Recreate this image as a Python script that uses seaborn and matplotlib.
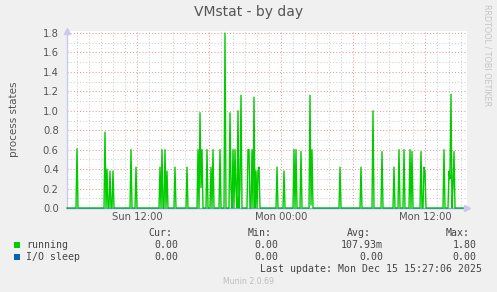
import numpy as np
import pandas as pd
import matplotlib
matplotlib.use("Agg")
import matplotlib.pyplot as plt
import matplotlib.dates as mdates
from matplotlib.ticker import MultipleLocator, FuncFormatter
from matplotlib.patches import Rectangle
import seaborn as sns

# ---------------- data ----------------
series_start = "2025-12-14 06:10"
series_end = "2025-12-15 15:25"
view_end = "2025-12-15 15:30"

# non-zero 5-minute samples of "running" (all other samples are 0)
running_times = [
    "12-14 07:00", "12-14 09:20", "12-14 09:30", "12-14 09:45", "12-14 10:00",
    "12-14 11:30", "12-14 11:55", "12-14 13:55", "12-14 14:05", "12-14 14:20",
    "12-14 14:30", "12-14 15:10", "12-14 16:10", "12-14 17:05", "12-14 17:15",
    "12-14 17:20", "12-14 17:25", "12-14 17:50", "12-14 18:10", "12-14 18:20",
    "12-14 18:55", "12-14 19:20", "12-14 19:45", "12-14 19:50", "12-14 20:00",
    "12-14 20:10", "12-14 20:15", "12-14 20:25", "12-14 20:35", "12-14 20:40",
    "12-14 21:15", "12-14 21:20", "12-14 21:35", "12-14 21:45", "12-14 21:55",
    "12-14 22:05", "12-14 22:10", "12-14 23:40", "12-15 00:15", "12-15 01:05",
    "12-15 01:15", "12-15 01:40", "12-15 02:25", "12-15 02:30", "12-15 02:35",
    "12-15 04:55", "12-15 06:40", "12-15 07:40", "12-15 08:25", "12-15 09:25",
    "12-15 09:50", "12-15 10:15", "12-15 10:45", "12-15 10:55", "12-15 11:40",
    "12-15 11:55", "12-15 12:00", "12-15 13:35", "12-15 14:00", "12-15 14:05",
    "12-15 14:10", "12-15 14:20", "12-15 14:25",
]
running_values = [
    0.61, 0.78, 0.40, 0.38, 0.38,
    0.60, 0.42, 0.42, 0.60, 0.60,
    0.38, 0.42, 0.42, 0.60, 0.98,
    0.21, 0.60, 0.60, 0.42, 0.60,
    0.60, 1.80, 0.98, 0.20, 0.60,
    0.60, 0.18, 1.00, 0.21, 1.16,
    0.60, 0.60, 0.60, 1.14, 0.38,
    0.38, 0.42, 0.42, 0.38, 0.60,
    0.60, 0.58, 1.16, 0.03, 0.60,
    0.42, 0.42, 1.00, 0.58, 0.42,
    0.60, 0.60, 0.60, 0.58, 0.58,
    0.42, 0.38, 0.60, 0.38, 0.30,
    1.17, 0.21, 0.58,
]
io_sleep_value = 0.0

series_names = ["running", "I/O sleep"]
series_colors = ["#00cc00", "#0066b3"]
legend_headers = ["Cur:", "Min:", "Avg:", "Max:"]
running_stats = ["0.00", "0.00", "107.93m", "1.80"]
io_sleep_stats = ["0.00", "0.00", "0.00", "0.00"]
title = "VMstat - by day"
ylabel = "process states"
last_update = "Last update: Mon Dec 15 15:27:06 2025"
footer = "Munin 2.0.69"
side_text = "RRDTOOL / TOBI OETIKER"

# ---------------- build table ----------------
idx = pd.date_range(series_start, series_end, freq="5min")
running = pd.Series(0.0, index=idx)
for t, v in zip(running_times, running_values):
    running[pd.Timestamp("2025-" + t)] = v
io = pd.Series(io_sleep_value, index=idx)
df = pd.concat([
    pd.DataFrame({"time": idx, "value": running.values, "series": "running"}),
    pd.DataFrame({"time": idx, "value": io.values, "series": "I/O sleep"}),
])

# ---------------- figure ----------------
W, H = 497, 292
fig = plt.figure(figsize=(W / 100, H / 100), dpi=100, facecolor="#f0f0f0")
ax = fig.add_axes([67 / W, 1 - 208 / H, 400 / W, 177 / H])
ax.set_facecolor("white")

sns.lineplot(data=df, x="time", y="value", hue="series", hue_order=series_names,
             palette=dict(zip(series_names, series_colors)), legend=False,
             linewidth=1.0, ax=ax, estimator=None)
for ln in ax.lines:
    ln.set_clip_on(False)
    ln.set_zorder(3)
ax.lines[1].set_linewidth(1.0)
ax.lines[1].set_alpha(0.45)

ax.set_xlim(pd.Timestamp(series_start), pd.Timestamp(view_end))
ax.set_ylim(0, 1.8 + 2 / 97.2)

ax.xaxis.set_major_locator(mdates.HourLocator(byhour=range(0, 24, 6)))
ax.xaxis.set_minor_locator(mdates.HourLocator())


def xfmt(x, pos):
    d = mdates.num2date(x)
    return d.strftime("%a %H:%M") if d.hour % 12 == 0 else ""


ax.xaxis.set_major_formatter(FuncFormatter(xfmt))
ax.yaxis.set_major_locator(MultipleLocator(0.2))
ax.yaxis.set_minor_locator(MultipleLocator(0.1))
ax.yaxis.set_major_formatter(FuncFormatter(lambda v, p: f"{v:.1f}"))

ax.grid(which="minor", color="#cfcfcf", linestyle=(0, (1, 2)), linewidth=0.75)
ax.grid(which="major", color="#ee9898", linestyle=(0, (1, 2)), linewidth=0.75)
ax.set_axisbelow(True)

ax.tick_params(which="both", length=0)
ax.tick_params(axis="y", pad=6, labelsize=7.2, labelcolor="#555555")
ax.tick_params(axis="x", pad=3, labelsize=7.2, labelcolor="#555555")
ax.set_xlabel("")
ax.set_ylabel("")

for s in ["top", "right", "bottom"]:
    ax.spines[s].set_visible(False)
ax.spines["left"].set_color("#c8c8f0")
ax.spines["left"].set_linewidth(1.0)

# axis arrows
ax.plot([0], [1.0], marker="^", color="#c8c8f0", markersize=4, transform=ax.transAxes,
        clip_on=False, zorder=4)
ax.plot([1.0], [0], marker=">", color="#c8c8f0", markersize=4, transform=ax.transAxes,
        clip_on=False, zorder=4)


def ft(x, y, s, ha="left", **kw):
    fig.text(x / W, 1 - y / H, s, ha=ha, va="center", **kw)


ft(249, 12, title, ha="center", fontsize=10, color="#555555")
ft(14, 119, ylabel, ha="center", rotation=90, fontsize=7.5, color="#555555")
fig.text(487.5 / W, 1 - 4 / H, side_text, ha="center", va="top", rotation=270,
         fontsize=5.8, color="#c4c4c4")

mono = dict(family="DejaVu Sans Mono", fontsize=7.1, color="#444444")
col_right = [172, 272, 371, 470]
val_right = [178, 278, 383, 476.5]
for xr, h in zip(col_right, legend_headers):
    ft(xr, 233, h, ha="right", **mono)
rows_y = [245, 256.5]
for y, name, col, stats in zip(rows_y, series_names, series_colors,
                               [running_stats, io_sleep_stats]):
    fig.patches.append(Rectangle((14 / W, 1 - (y + 3) / H), 6 / W, 6 / H,
                                 transform=fig.transFigure, facecolor=col,
                                 edgecolor="none"))
    ft(26.5, y, name, **mono)
    for xr, s in zip(val_right, stats):
        ft(xr, y, s, ha="right", **mono)
ft(482, 268.5, last_update, ha="right", **mono)
ft(248.5, 281, footer, ha="center", fontsize=5.6, color="#bdbdbd")

fig.savefig("out.png", dpi=100, facecolor=fig.get_facecolor())
